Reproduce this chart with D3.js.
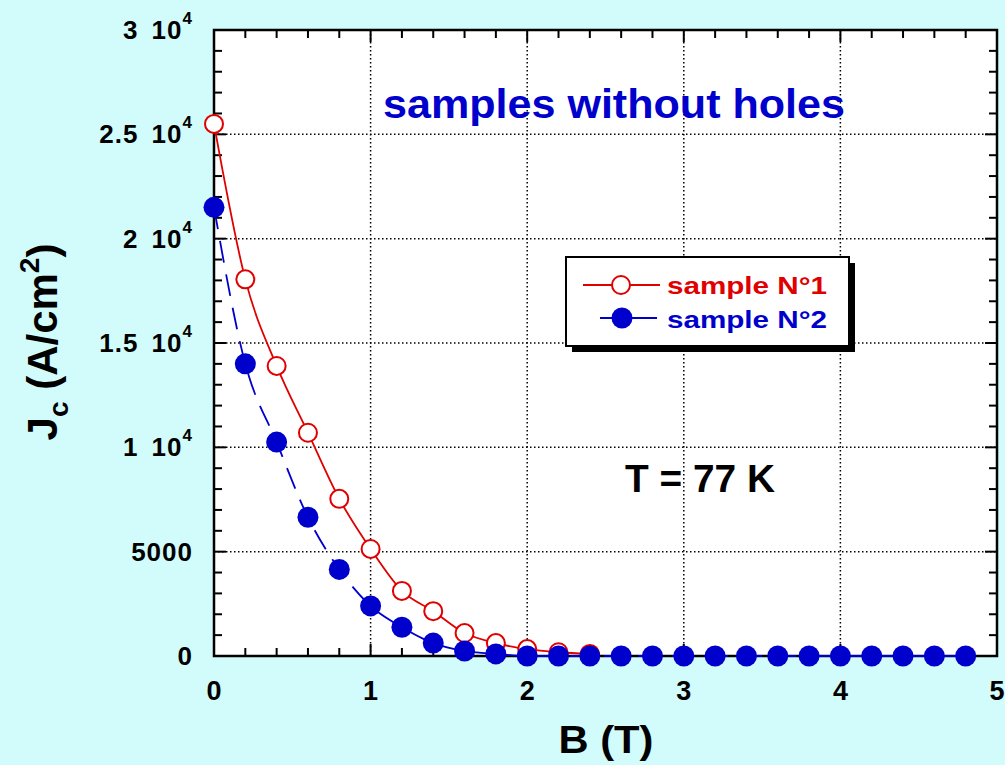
<!DOCTYPE html>
<html>
<head>
<meta charset="utf-8">
<script src="https://cdn.jsdelivr.net/npm/d3@7"></script>
<style>
  body { margin: 0; background: #d2fbfb; }
  text { font-family: "Liberation Sans", Arial, sans-serif; font-weight: bold; }
</style>
</head>
<body>
<div id="plot"></div>
<script>
// chart values
const fieldB = [0, 0.2, 0.4, 0.6, 0.8, 1.0, 1.2, 1.4, 1.6, 1.8, 2.0, 2.2, 2.4, 2.6, 2.8, 3.0, 3.2, 3.4, 3.6, 3.8, 4.0, 4.2, 4.4, 4.6, 4.8];
const sample1 = [25500, 18050, 13900, 10700, 7530, 5130, 3120, 2150, 1100, 620, 330, 180, 100];
const sample2 = [21500, 14000, 10250, 6650, 4150, 2400, 1380, 620, 240, 100, 0, 0, 0, 0, 0, 0, 0, 0, 0, 0, 0, 0, 0, 0, 0];
const xTicks = [0, 1, 2, 3, 4, 5];
const yTicks = [0, 5000, 10000, 15000, 20000, 25000, 30000];
const yTickLabels = [["0", null], ["5000", null], ["1 10", "4"], ["1.5 10", "4"], ["2 10", "4"], ["2.5 10", "4"], ["3 10", "4"]];
const seriesNames = ["sample N°1", "sample N°2"];

const width = 1005;
const height = 765;
const margin = {top: 30, right: 8, bottom: 109, left: 214};
const innerWidth = width - margin.left - margin.right;
const innerHeight = height - margin.top - margin.bottom;

const red = "#e00000";
const blue = "#0000cc";

const svg = d3.select("div#plot")
  .append("svg")
    .attr("width", width)
    .attr("height", height);

svg.append("rect")
    .attr("width", width)
    .attr("height", height)
    .attr("fill", "#d2fbfb");

const g = svg.append("g").attr("transform", `translate(${margin.left}, ${margin.top})`);

const xScale = d3.scaleLinear().domain([0, 5]).range([0, innerWidth]);
const yScale = d3.scaleLinear().domain([0, 30000]).range([innerHeight, 0]);

// plot background
g.append("rect")
    .attr("width", innerWidth)
    .attr("height", innerHeight)
    .attr("fill", "white");

// dotted grid at major ticks
g.selectAll(".gx").data(xTicks.slice(1, -1)).join("line")
    .attr("x1", d => xScale(d)).attr("x2", d => xScale(d))
    .attr("y1", 0).attr("y2", innerHeight)
    .attr("stroke", "black").attr("stroke-width", 1.5).attr("stroke-dasharray", "1.5,2.5");
g.selectAll(".gy").data(yTicks.slice(1, -1)).join("line")
    .attr("y1", d => yScale(d)).attr("y2", d => yScale(d))
    .attr("x1", 0).attr("x2", innerWidth)
    .attr("stroke", "black").attr("stroke-width", 1.5).attr("stroke-dasharray", "1.5,2.5");

// inward ticks on all four sides
const xMinor = d3.range(0, 5.001, 0.2);
const yMinor = d3.range(0, 30001, 1000);
function tickLen(v, step) { return Math.abs(v / step - Math.round(v / step)) < 1e-6 ? 12 : 8; }

g.append("g").selectAll("line").data(xMinor).join("line")
    .attr("x1", d => xScale(d)).attr("x2", d => xScale(d))
    .attr("y1", innerHeight).attr("y2", d => innerHeight - tickLen(d, 1))
    .attr("stroke", "black").attr("stroke-width", 2);
g.append("g").selectAll("line").data(xMinor).join("line")
    .attr("x1", d => xScale(d)).attr("x2", d => xScale(d))
    .attr("y1", 0).attr("y2", d => tickLen(d, 1))
    .attr("stroke", "black").attr("stroke-width", 2);
g.append("g").selectAll("line").data(yMinor).join("line")
    .attr("y1", d => yScale(d)).attr("y2", d => yScale(d))
    .attr("x1", 0).attr("x2", d => tickLen(d, 5000))
    .attr("stroke", "black").attr("stroke-width", 2);
g.append("g").selectAll("line").data(yMinor).join("line")
    .attr("y1", d => yScale(d)).attr("y2", d => yScale(d))
    .attr("x1", innerWidth).attr("x2", d => innerWidth - tickLen(d, 5000))
    .attr("stroke", "black").attr("stroke-width", 2);

// frame
g.append("rect")
    .attr("width", innerWidth)
    .attr("height", innerHeight)
    .attr("fill", "none")
    .attr("stroke", "black")
    .attr("stroke-width", 2.5);

// tick labels
g.selectAll(".xl").data(xTicks).join("text")
    .attr("x", d => xScale(d))
    .attr("y", innerHeight + 44)
    .attr("text-anchor", "middle")
    .attr("font-size", 27)
    .text(d => d);

const yl = g.selectAll(".yl").data(yTicks).join("text")
    .attr("x", -21)
    .attr("y", d => yScale(d) + 9)
    .attr("text-anchor", "end")
    .attr("font-size", 26)
    .attr("letter-spacing", 1)
    .attr("word-spacing", 5);
yl.append("tspan").text((d, i) => yTickLabels[i][0]);
yl.append("tspan")
    .attr("font-size", 17)
    .attr("dy", -15)
    .text((d, i) => yTickLabels[i][1] || "");

// lines
const line1 = d3.line()
    .x((d, i) => xScale(fieldB[i]))
    .y(d => yScale(d))
    .curve(d3.curveMonotoneX);
const line2 = d3.line()
    .x((d, i) => xScale(fieldB[i]))
    .y(d => yScale(d))
    .curve(d3.curveMonotoneX);

g.append("path")
    .datum(sample2)
    .attr("d", line2)
    .attr("fill", "none")
    .attr("stroke", blue)
    .attr("stroke-width", 1.8)
    .attr("stroke-dasharray", "22,12");

g.append("path")
    .datum(sample1)
    .attr("d", line1)
    .attr("fill", "none")
    .attr("stroke", red)
    .attr("stroke-width", 1.8);

g.selectAll(".m1").data(sample1).join("circle")
    .attr("cx", (d, i) => xScale(fieldB[i]))
    .attr("cy", d => yScale(d))
    .attr("r", 9)
    .attr("fill", "white")
    .attr("stroke", red)
    .attr("stroke-width", 2);

g.selectAll(".m2").data(sample2).join("circle")
    .attr("cx", (d, i) => xScale(fieldB[i]))
    .attr("cy", d => yScale(d))
    .attr("r", 10.5)
    .attr("fill", blue);

// legend with drop shadow
const leg = svg.append("g").attr("transform", "translate(566, 257)");
leg.append("rect").attr("x", 6).attr("y", 6).attr("width", 283).attr("height", 89).attr("fill", "black");
leg.append("rect").attr("width", 283).attr("height", 89).attr("fill", "white").attr("stroke", "black").attr("stroke-width", 2);
leg.append("line").attr("x1", 17).attr("x2", 94).attr("y1", 28).attr("y2", 28).attr("stroke", red).attr("stroke-width", 1.8);
leg.append("circle").attr("cx", 55).attr("cy", 28).attr("r", 9).attr("fill", "white").attr("stroke", red).attr("stroke-width", 2);
leg.append("line").attr("x1", 34).attr("x2", 91).attr("y1", 61).attr("y2", 61).attr("stroke", blue).attr("stroke-width", 1.8);
leg.append("circle").attr("cx", 56).attr("cy", 61).attr("r", 10.5).attr("fill", blue);
leg.append("text").attr("x", 101).attr("y", 37).attr("font-size", 24).attr("fill", red)
    .attr("textLength", 160).attr("lengthAdjust", "spacingAndGlyphs").text(seriesNames[0]);
leg.append("text").attr("x", 101).attr("y", 71).attr("font-size", 24).attr("fill", blue)
    .attr("textLength", 160).attr("lengthAdjust", "spacingAndGlyphs").text(seriesNames[1]);

// annotations
svg.append("text")
    .attr("x", 614).attr("y", 118)
    .attr("text-anchor", "middle")
    .attr("font-size", 40)
    .attr("fill", blue)
    .attr("textLength", 462).attr("lengthAdjust", "spacingAndGlyphs")
    .text("samples without holes");
svg.append("text")
    .attr("x", 700).attr("y", 492)
    .attr("text-anchor", "middle")
    .attr("font-size", 38)
    .attr("fill", "black")
    .attr("textLength", 150).attr("lengthAdjust", "spacingAndGlyphs")
    .text("T = 77 K");

// axis titles
svg.append("text")
    .attr("x", 606).attr("y", 753)
    .attr("text-anchor", "middle")
    .attr("font-size", 39)
    .attr("textLength", 95).attr("lengthAdjust", "spacingAndGlyphs")
    .text("B (T)");

const yt = svg.append("text")
    .attr("transform", "translate(57, 342) rotate(-90)")
    .attr("text-anchor", "middle")
    .attr("font-size", 42);
yt.append("tspan").text("J");
yt.append("tspan").attr("font-size", 28).attr("dy", 11).text("c");
yt.append("tspan").attr("dy", -11).text(" (A/cm");
yt.append("tspan").attr("font-size", 28).attr("dy", -18).text("2");
yt.append("tspan").attr("dy", 18).text(")");
</script>
</body>
</html>
